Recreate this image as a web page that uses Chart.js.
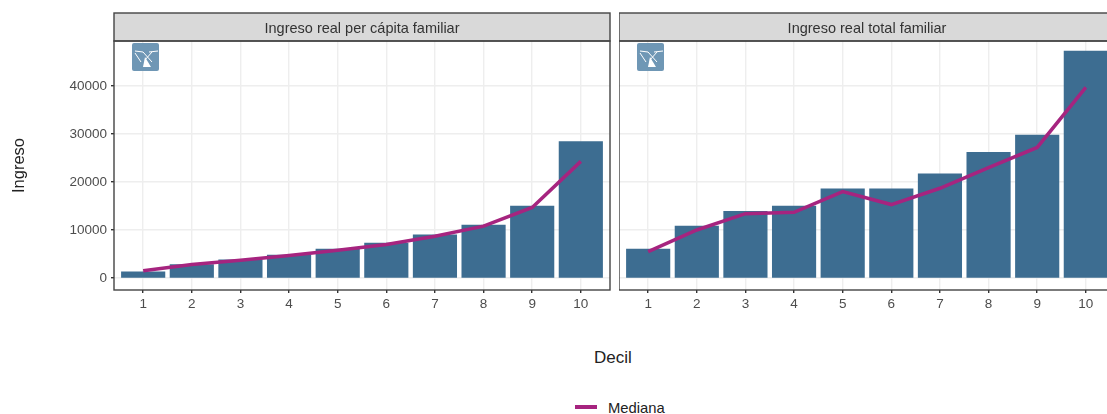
<!DOCTYPE html>
<html>
<head>
<meta charset="utf-8">
<script src="https://cdn.jsdelivr.net/npm/chart.js@4"></script>
<style>
  html, body { margin: 0; padding: 0; background: #fff; width: 1107px; height: 414px; overflow: hidden; }
  body { position: relative; font-family: "Liberation Sans", Arial, sans-serif; }
  canvas { position: absolute; top: 0; }
  #c1 { left: 0; }
  #c2 { left: 619px; }
  #xtitle { position: absolute; left: 594px; top: 349px; font-size: 17px; line-height: 18px; color: #222; }
  #legend { position: absolute; left: 575px; top: 400px; font-size: 14.8px; line-height: 16px; color: #222; }
  #legend i { position: absolute; left: 0; top: 5px; width: 22px; height: 3.5px; background: #a6247f; }
  #legend span { position: absolute; left: 33px; top: 0; }
</style>
</head>
<body>
<canvas id="c1"></canvas>
<canvas id="c2"></canvas>
<div id="xtitle">Decil</div>
<div id="legend"><i></i><span>Mediana</span></div>
<script>
const deciles = [1, 2, 3, 4, 5, 6, 7, 8, 9, 10];
const yTicks = [0, 10000, 20000, 30000, 40000];

const perCapitaTitle = 'Ingreso real per cápita familiar';
const perCapitaMean = [1300, 2800, 3800, 4800, 6000, 7300, 9000, 11000, 15000, 28400];
const perCapitaMedian = [1500, 2800, 3700, 4700, 5800, 7000, 8700, 10800, 14700, 24300];

const totalTitle = 'Ingreso real total familiar';
const totalMean = [6000, 10800, 13900, 15000, 18600, 18600, 21700, 26200, 29800, 47300];
const totalMedian = [5500, 10000, 13400, 13700, 18000, 15300, 18700, 23000, 27200, 39700];

const FONT = '"Liberation Sans", Arial, sans-serif';

// grey strip, panel border and the small badge of each facet
const facetPlugin = {
  id: 'facet',
  afterDatasetsDraw(chart, args, opts) {
    const { ctx, chartArea: a } = chart;
    ctx.save();
    ctx.fillStyle = '#d9d9d9';
    ctx.fillRect(a.left, 13, a.right - a.left, a.top - 13);
    ctx.strokeStyle = '#444';
    ctx.lineWidth = 1.4;
    ctx.strokeRect(a.left, 13, a.right - a.left, a.top - 13);
    ctx.strokeRect(a.left, a.top, a.right - a.left, a.bottom - a.top);
    ctx.fillStyle = '#333';
    ctx.font = '14.5px ' + FONT;
    ctx.textAlign = 'center';
    ctx.textBaseline = 'middle';
    ctx.fillText(opts.title, (a.left + a.right) / 2, 28.5);

    // badge
    const bx = a.left + 18, by = a.top + 2;
    ctx.fillStyle = '#6f97b5';
    ctx.beginPath();
    ctx.roundRect(bx, by, 27, 28, 2);
    ctx.fill();
    ctx.strokeStyle = '#fff';
    ctx.lineWidth = 1;
    ctx.beginPath();
    ctx.moveTo(bx + 3, by + 8); ctx.lineTo(bx + 11, by + 9);
    ctx.moveTo(bx + 17, by + 9); ctx.lineTo(bx + 26, by + 8);
    ctx.moveTo(bx + 3, by + 10); ctx.lineTo(bx + 9, by + 19);
    ctx.moveTo(bx + 11, by + 9); ctx.lineTo(bx + 20, by + 19);
    ctx.moveTo(bx + 20, by + 9); ctx.lineTo(bx + 13, by + 17);
    ctx.stroke();
    ctx.fillStyle = '#fff';
    ctx.beginPath();
    ctx.moveTo(bx + 13, by + 14); ctx.lineTo(bx + 19, by + 24); ctx.lineTo(bx + 11, by + 24);
    ctx.closePath();
    ctx.fill();
    ctx.restore();
  }
};

function makeFacet(id, width, height, title, bars, line, showY) {
  const canvas = document.getElementById(id);
  canvas.width = width;
  canvas.height = height;
  canvas.style.width = width + 'px';
  canvas.style.height = height + 'px';
  return new Chart(canvas, {
    data: {
      datasets: [{
        type: 'line',
        order: 1,
        label: 'Mediana',
        data: line.map((v, i) => ({ x: deciles[i], y: v })),
        borderColor: '#a6247f',
        borderWidth: 3.5,
        pointRadius: 0,
        tension: 0,
        fill: false
      }, {
        type: 'bar',
        order: 2,
        label: 'Media',
        data: bars.map((v, i) => ({ x: deciles[i], y: v })),
        backgroundColor: '#3d6d91',
        barThickness: 43.5
      }]
    },
    options: {
      responsive: false,
      animation: false,
      devicePixelRatio: 1,
      layout: { padding: { top: 41, right: 5, left: 0, bottom: 0 } },
      plugins: {
        legend: { display: false },
        tooltip: { enabled: false },
        facet: { title: title }
      },
      scales: {
        x: {
          type: 'linear',
          offset: false,
          min: 0.4,
          max: 10.6,
          afterBuildTicks(axis) { axis.ticks = deciles.map(v => ({ value: v })); },
          afterFit(axis) { axis.height = 40; },
          grid: { offset: false, color: '#eeeeee', lineWidth: 1.4, tickColor: '#333', tickLength: 3 },
          border: { display: false },
          ticks: { color: '#4d4d4d', font: { size: 13.5, family: FONT }, padding: 3, maxRotation: 0, autoSkip: false,
                   callback: v => String(v) }
        },
        y: {
          min: -2500,
          max: 49375,
          afterBuildTicks(axis) { axis.ticks = yTicks.map(v => ({ value: v })); },
          afterFit(axis) { axis.width = showY ? 114 : 0; },
          grid: { color: '#eeeeee', lineWidth: 1.4, tickColor: '#333', tickLength: showY ? 3 : 0 },
          border: { display: false },
          ticks: { display: showY, color: '#4d4d4d', font: { size: 13.5, family: FONT }, padding: 4,
                   callback: v => String(v) },
          title: {
            display: showY,
            text: 'Ingreso',
            color: '#222',
            font: { size: 16.5, family: FONT },
            padding: { top: 10, bottom: 0 }
          }
        }
      }
    },
    plugins: [facetPlugin]
  });
}

makeFacet('c1', 615, 330, perCapitaTitle, perCapitaMean, perCapitaMedian, true);
makeFacet('c2', 501, 330, totalTitle, totalMean, totalMedian, false);
</script>
</body>
</html>
